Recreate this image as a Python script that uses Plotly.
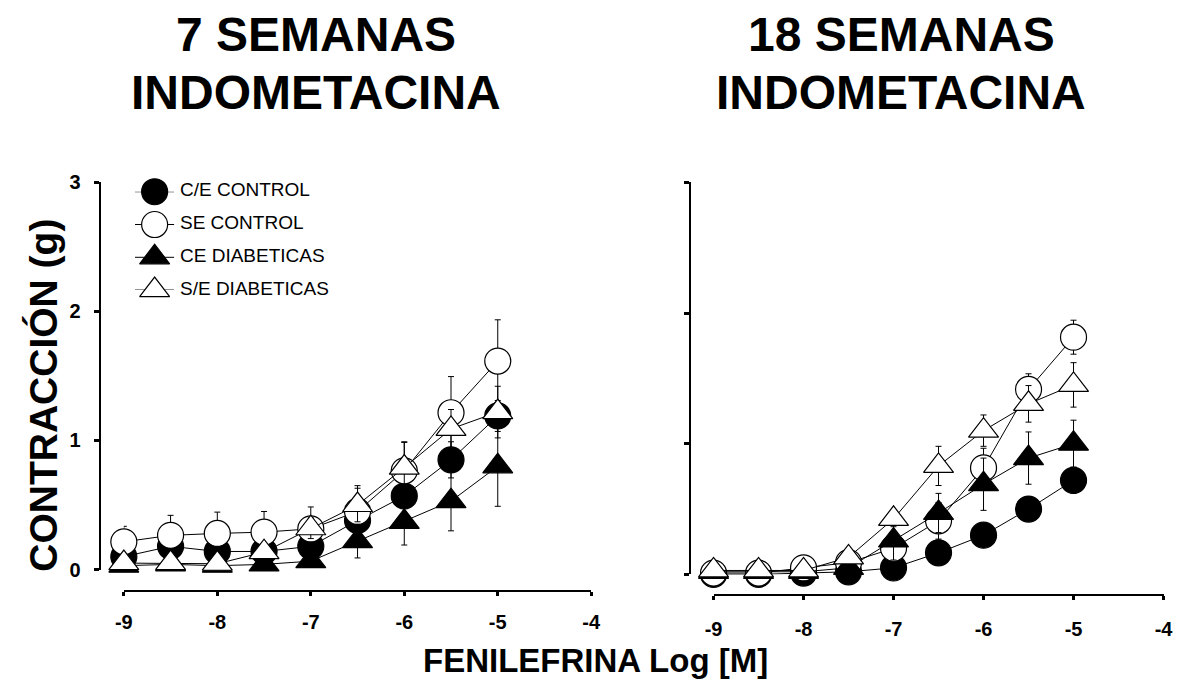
import plotly.graph_objects as go

W, H = 1187, 688

# Phenylephrine concentration (log M)
dose = [-9, -8.5, -8, -7.5, -7, -6.5, -6, -5.5, -5]

# 7 semanas, indometacina: contraction (g) and error
ce_control_7 = [0.10, 0.18, 0.14, 0.14, 0.18, 0.38, 0.57, 0.85, 1.19]
ce_control_7_err = [0.03, 0.04, 0.04, 0.04, 0.05, 0.05, 0.07, 0.14, 0.12]
se_control_7 = [0.215, 0.265, 0.28, 0.29, 0.315, 0.45, 0.765, 1.215, 1.615]
se_control_7_err = [0.12, 0.155, 0.165, 0.16, 0.17, 0.20, 0.22, 0.28, 0.32]
ce_diab_7 = [0.03, 0.04, 0.03, 0.04, 0.065, 0.22, 0.37, 0.53, 0.80]
ce_diab_7_err = [0.02, 0.02, 0.02, 0.03, 0.04, 0.13, 0.18, 0.23, 0.31]
se_diab_7 = [0.05, 0.05, 0.045, 0.135, 0.32, 0.50, 0.79, 1.09, 1.22]
se_diab_7_err = [0.03, 0.03, 0.03, 0.05, 0.08, 0.13, 0.20, 0.15, 0.20]

# 18 semanas, indometacina
ce_control_18 = [0.0, 0.0, 0.01, 0.02, 0.05, 0.165, 0.30, 0.50, 0.72]
ce_control_18_err = [0.01, 0.01, 0.01, 0.02, 0.03, 0.04, 0.05, 0.07, 0.10]
se_control_18 = [0.01, 0.01, 0.05, 0.09, 0.20, 0.41, 0.815, 1.415, 1.815]
se_control_18_err = [0.02, 0.02, 0.03, 0.04, 0.05, 0.14, 0.15, 0.12, 0.13]
ce_diab_18 = [0.02, 0.02, 0.02, 0.05, 0.26, 0.47, 0.69, 0.89, 1.00]
ce_diab_18_err = [0.01, 0.01, 0.01, 0.02, 0.15, 0.15, 0.20, 0.20, 0.18]
se_diab_18 = [0.03, 0.03, 0.03, 0.13, 0.425, 0.83, 1.10, 1.305, 1.45]
se_diab_18_err = [0.01, 0.01, 0.02, 0.03, 0.06, 0.15, 0.12, 0.14, 0.17]

series_names = ["C/E CONTROL", "SE CONTROL", "CE DIABETICAS", "S/E DIABETICAS"]
symbols = ["circle", "circle", "triangle-up", "triangle-up"]
fills = ["black", "white", "black", "white"]
sizes = [26, 26, 26, 26]

tick_x = [-9, -8, -7, -6, -5, -4]
tick_x_text = ["-9", "-8", "-7", "-6", "-5", "-4"]
tick_y = [0, 1, 2, 3]

FONT = "Liberation Sans, Arial, sans-serif"


def fx(p):
    return p / W


def fy(p):
    return 1 - p / H


panels = [
    ("x", "y", [(ce_control_7, ce_control_7_err), (se_control_7, se_control_7_err),
                (ce_diab_7, ce_diab_7_err), (se_diab_7, se_diab_7_err)]),
    ("x2", "y2", [(ce_control_18, ce_control_18_err), (se_control_18, se_control_18_err),
                  (ce_diab_18, ce_diab_18_err), (se_diab_18, se_diab_18_err)]),
]

fig = go.Figure()

for xa, ya, group in panels:
    for i, (vals, errs) in enumerate(group):
        fig.add_trace(go.Scatter(
            x=dose, y=vals, xaxis=xa, yaxis=ya,
            mode="lines+markers", name=series_names[i], showlegend=False,
            cliponaxis=False,
            line=dict(color="black", width=1),
            marker=dict(symbol=symbols[i], size=sizes[i], color=fills[i],
                        line=dict(color="black", width=1.2)),
            error_y=dict(type="data", array=errs, visible=True,
                         color="black", thickness=1, width=3),
        ))

# Legend block drawn on its own hidden axes
legend_rows = [3, 2, 1, 0]
for i, name in enumerate(series_names):
    fig.add_trace(go.Scatter(
        x=[0, 1], y=[legend_rows[i]] * 2, xaxis="x3", yaxis="y3",
        mode="lines", showlegend=False, cliponaxis=False,
        line=dict(color="black", width=1), hoverinfo="skip"))
    fig.add_trace(go.Scatter(
        x=[0.5], y=[legend_rows[i]], xaxis="x3", yaxis="y3",
        mode="markers", showlegend=False, cliponaxis=False,
        marker=dict(symbol=symbols[i], size=sizes[i], color=fills[i],
                    line=dict(color="black", width=1.2)), hoverinfo="skip"))

tickfont = dict(family=FONT, size=20, color="black", weight="bold")
line_common = dict(showline=True, linecolor="black", linewidth=2, mirror=False,
                   ticks="outside", tickcolor="black", tickwidth=3,
                   showgrid=False, zeroline=False, anchor="free", tickfont=tickfont)

annotations = []
for i, name in enumerate(series_names):
    annotations.append(dict(
        x=fx(172), xref="paper", y=legend_rows[i], yref="y3", yshift=2,
        text=name, showarrow=False, xanchor="left", yanchor="middle",
        font=dict(family=FONT, size=19, color="black")))

# Panel titles
for cx, lines in [(312, ["7 SEMANAS", "INDOMETACINA"]), (907, ["18 SEMANAS", "INDOMETACINA"])]:
    for cy, txt in zip([24, 84], lines):
        annotations.append(dict(
            x=fx(cx), y=fy(cy), xref="paper", yref="paper", text=txt,
            showarrow=False, xanchor="center", yanchor="middle",
            font=dict(family=FONT, size=48, color="black", weight="bold")))

# Axis titles
annotations.append(dict(
    x=fx(35), y=fy(397), xref="paper", yref="paper", text="CONTRACCIÓN (g)",
    textangle=-90, showarrow=False, xanchor="center", yanchor="middle",
    font=dict(family=FONT, size=39, color="black", weight="bold")))
annotations.append(dict(
    x=fx(596), y=fy(671), xref="paper", yref="paper", text="FENILEFRINA Log [M]",
    showarrow=False, xanchor="center", yanchor="middle",
    font=dict(family=FONT, size=33, color="black", weight="bold")))

fig.update_layout(
    width=W, height=H, margin=dict(l=0, r=0, t=0, b=0),
    paper_bgcolor="white", plot_bgcolor="white", showlegend=False,
    xaxis=dict(domain=[fx(116.7), fx(591.7)], range=[-9, -4], tickvals=tick_x,
               ticktext=tick_x_text, position=fy(599.5), ticklen=4,
               ticklabelstandoff=9, **line_common),
    yaxis=dict(domain=[fy(577), fy(177)], range=[0, 3], tickvals=tick_y,
               position=fx(92), ticklen=5, ticklabelstandoff=9, **line_common),
    xaxis2=dict(domain=[fx(716), fx(1173.3)], range=[-9, -4], tickvals=tick_x,
                ticktext=tick_x_text, position=fy(603), ticklen=4,
                ticklabelstandoff=12, **line_common),
    yaxis2=dict(domain=[fy(582), fy(177)], range=[0, 3], tickvals=tick_y,
                position=fx(692), ticklen=5, showticklabels=False, **line_common),
    xaxis3=dict(domain=[fx(128), fx(168)], range=[0, 1], visible=False, anchor="y3"),
    yaxis3=dict(domain=[fy(288.3), fy(186.7)], range=[0, 3], visible=False, anchor="x3"),
    annotations=annotations,
)

fig.write_html("out.html")
